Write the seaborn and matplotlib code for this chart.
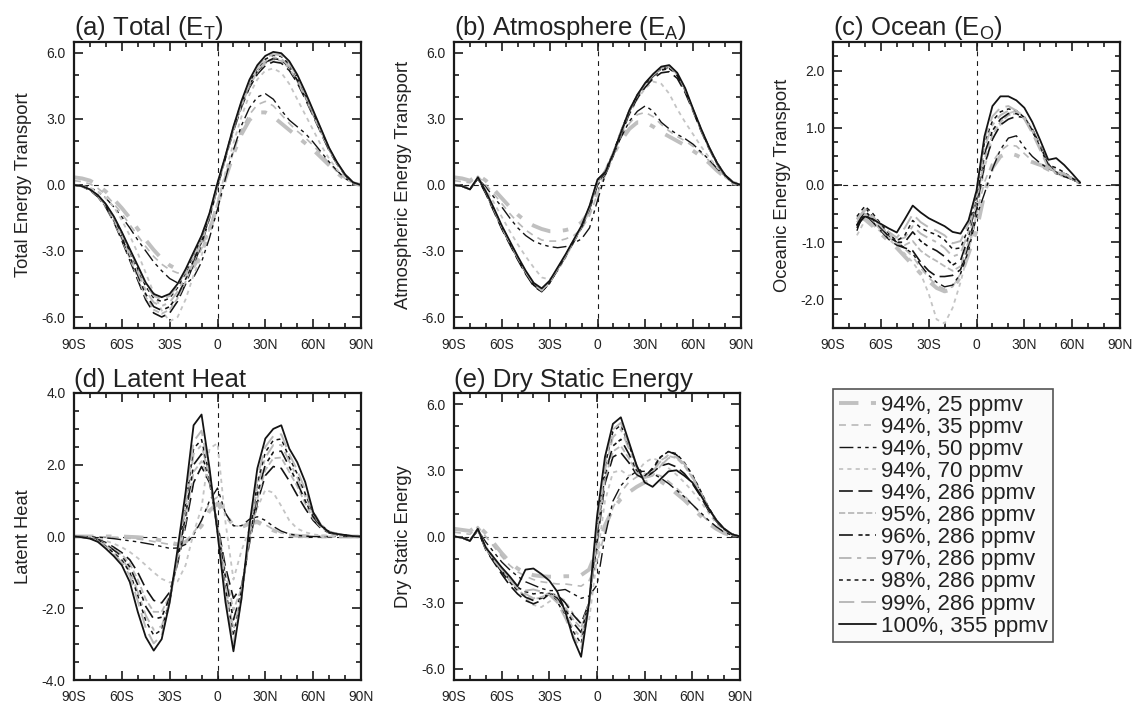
import seaborn as sns
import matplotlib.pyplot as plt
from matplotlib.ticker import MultipleLocator, FixedLocator, FixedFormatter, FormatStrFormatter

sns.set_theme(style="ticks")
plt.rcParams["font.family"] = ["Liberation Sans", "DejaVu Sans"]
plt.rcParams["mathtext.fontset"] = "custom"
plt.rcParams["mathtext.rm"] = "Liberation Sans"
plt.rcParams["mathtext.it"] = "Liberation Sans:italic"
plt.rcParams["axes.unicode_minus"] = False
plt.rcParams["lines.scale_dashes"] = False

# latitude grids (deg, negative = south)
lat = list(range(-90, 95, 5))
lat_ocean = list(range(-75, 70, 5))

labels = ["94%, 25 ppmv", "94%, 35 ppmv", "94%, 50 ppmv", "94%, 70 ppmv",
          "94%, 286 ppmv", "95%, 286 ppmv", "96%, 286 ppmv", "97%, 286 ppmv",
          "98%, 286 ppmv", "99%, 286 ppmv", "100%, 355 ppmv"]

# (a) total energy transport
tot_94_25 = [0.35, 0.3, 0.2, 0.0, -0.3, -0.65, -1.05, -1.5, -2.0, -2.5, -2.95, -3.35, -3.65, -3.85, -3.9, -3.7, -3.1, -2.1,
             -0.9, 0.3, 1.4, 2.3, 2.95, 3.3, 3.3, 3.1, 2.8, 2.5, 2.2, 1.9, 1.6, 1.25, 0.9, 0.55, 0.25, 0.08, 0.0]
tot_94_35 = [0.2, 0.15, 0.05, -0.15, -0.45, -0.85, -1.3, -1.8, -2.3, -2.8, -3.25, -3.6, -3.85, -4.0, -3.95, -3.6, -2.9, -1.9,
             -0.8, 0.4, 1.5, 2.5, 3.2, 3.65, 3.8, 3.6, 3.2, 2.8, 2.45, 2.15, 1.8, 1.4, 1.0, 0.6, 0.3, 0.1, 0.0]
tot_94_50 = [0.0, -0.03, -0.12, -0.3, -0.6, -1.0, -1.45, -1.95, -2.5, -3.0, -3.5, -3.9, -4.25, -4.45, -4.5, -4.2, -3.5, -2.4,
             -1.1, 0.3, 1.6, 2.7, 3.5, 4.0, 4.15, 3.9, 3.4, 2.95, 2.65, 2.35, 1.95, 1.5, 1.05, 0.65, 0.3, 0.08, 0.0]
tot_94_70 = [0.0, -0.03, -0.12, -0.3, -0.6, -1.0, -1.6, -2.3, -3.1, -4.0, -4.9, -5.7, -6.2, -6.0, -5.2, -4.1, -3.2, -2.0,
             -0.8, 0.6, 1.9, 3.1, 4.1, 4.8, 5.2, 5.3, 5.1, 4.6, 3.9, 3.2, 2.5, 1.8, 1.2, 0.7, 0.3, 0.08, 0.0]
tot_94_286 = [0.0, -0.06, -0.24, -0.54, -1.02, -1.68, -2.52, -3.42, -4.32, -5.22, -5.82, -6.0, -5.82, -5.28, -4.5, -3.6, -2.7, -1.5,
              -0.1, 1.23, 2.46, 3.53, 4.42, 5.04, 5.43, 5.6, 5.54, 5.21, 4.65, 3.92, 3.14, 2.35, 1.57, 0.95, 0.45, 0.11, 0.0]
tot_95 = [0.0, -0.06, -0.23, -0.53, -0.99, -1.64, -2.46, -3.33, -4.21, -5.09, -5.67, -5.85, -5.67, -5.15, -4.39, -3.51, -2.63, -1.46,
          -0.05, 1.25, 2.51, 3.59, 4.5, 5.13, 5.53, 5.7, 5.64, 5.3, 4.73, 3.99, 3.19, 2.39, 1.6, 0.97, 0.46, 0.11, 0.0]
tot_96 = [0.0, -0.06, -0.23, -0.51, -0.97, -1.6, -2.39, -3.25, -4.1, -4.96, -5.53, -5.7, -5.53, -5.02, -4.28, -3.42, -2.57, -1.43,
          -0.05, 1.27, 2.53, 3.62, 4.54, 5.18, 5.58, 5.75, 5.69, 5.35, 4.77, 4.03, 3.22, 2.42, 1.61, 0.98, 0.46, 0.12, 0.0]
tot_97 = [0.0, -0.06, -0.22, -0.5, -0.94, -1.54, -2.31, -3.14, -3.96, -4.79, -5.34, -5.5, -5.34, -4.84, -4.13, -3.3, -2.48, -1.38,
          0.0, 1.28, 2.55, 3.65, 4.58, 5.22, 5.63, 5.8, 5.74, 5.39, 4.81, 4.06, 3.25, 2.44, 1.62, 0.99, 0.46, 0.12, 0.0]
tot_98 = [0.0, -0.05, -0.21, -0.48, -0.9, -1.48, -2.23, -3.02, -3.82, -4.61, -5.14, -5.3, -5.14, -4.66, -3.98, -3.18, -2.39, -1.33,
          0.05, 1.3, 2.6, 3.72, 4.66, 5.31, 5.72, 5.9, 5.84, 5.49, 4.9, 4.13, 3.3, 2.48, 1.65, 1.0, 0.47, 0.12, 0.0]
tot_99 = [0.0, -0.05, -0.21, -0.47, -0.88, -1.46, -2.18, -2.96, -3.74, -4.52, -5.04, -5.2, -5.04, -4.58, -3.9, -3.12, -2.34, -1.3,
          0.05, 1.31, 2.62, 3.75, 4.7, 5.36, 5.77, 5.95, 5.89, 5.53, 4.94, 4.17, 3.33, 2.5, 1.67, 1.01, 0.48, 0.12, 0.0]
tot_100 = [0.0, -0.05, -0.2, -0.46, -0.87, -1.43, -2.14, -2.91, -3.67, -4.44, -4.95, -5.1, -4.95, -4.49, -3.83, -3.06, -2.3, -1.28,
           0.1, 1.33, 2.66, 3.81, 4.78, 5.45, 5.87, 6.05, 5.99, 5.63, 5.02, 4.24, 3.39, 2.54, 1.69, 1.03, 0.48, 0.12, 0.0]

# (b) atmospheric energy transport
atm_94_25 = [0.35, 0.3, 0.2, 0.45, 0.2, -0.2, -0.6, -1.0, -1.35, -1.65, -1.85, -2.0, -2.1, -2.1, -2.05, -1.95, -1.7, -1.2,
             -0.3, 0.6, 1.4, 2.05, 2.55, 2.85, 2.85, 2.65, 2.4, 2.2, 2.0, 1.8, 1.55, 1.3, 1.0, 0.65, 0.35, 0.1, 0.0]
atm_94_35 = [0.2, 0.15, 0.1, 0.4, 0.0, -0.4, -0.85, -1.3, -1.7, -2.05, -2.3, -2.5, -2.55, -2.55, -2.45, -2.3, -2.0, -1.4,
             -0.4, 0.6, 1.5, 2.2, 2.8, 3.2, 3.3, 3.1, 2.75, 2.45, 2.2, 2.0, 1.75, 1.45, 1.1, 0.7, 0.35, 0.1, 0.0]
atm_94_50 = [0.0, -0.05, -0.15, 0.3, -0.1, -0.55, -1.0, -1.5, -1.95, -2.3, -2.55, -2.7, -2.8, -2.85, -2.8, -2.65, -2.45, -1.95,
             -0.7, 0.5, 1.45, 2.2, 2.9, 3.35, 3.6, 3.35, 2.85, 2.55, 2.3, 2.1, 1.85, 1.5, 1.15, 0.75, 0.4, 0.1, 0.0]
atm_94_70 = [0.0, -0.05, -0.2, 0.35, -0.2, -0.8, -1.45, -2.1, -2.7, -3.25, -3.75, -4.2, -4.3, -3.9, -3.3, -2.6, -1.9, -1.0,
             0.1, 0.6, 1.4, 2.3, 3.2, 3.9, 4.4, 4.7, 4.6, 4.15, 3.45, 2.85, 2.3, 1.75, 1.25, 0.8, 0.4, 0.1, 0.0]
atm_94_286 = [0.0, -0.05, -0.2, 0.3, -0.4, -1.2, -2.0, -2.7, -3.4, -4.05, -4.6, -4.85, -4.45, -3.85, -3.25, -2.6, -1.95, -1.1,
              0.0, 0.5, 1.35, 2.35, 3.25, 3.95, 4.45, 4.85, 5.1, 5.15, 4.85, 4.2, 3.35, 2.45, 1.65, 0.95, 0.42, 0.11, 0.0]
atm_95 = [0.0, -0.05, -0.2, 0.35, -0.3, -1.1, -1.9, -2.6, -3.3, -3.95, -4.5, -4.8, -4.42, -3.8, -3.2, -2.55, -1.9, -1.05,
          0.1, 0.55, 1.4, 2.4, 3.35, 4.05, 4.58, 5.0, 5.28, 5.35, 5.02, 4.32, 3.42, 2.52, 1.7, 1.0, 0.45, 0.12, 0.0]
atm_96 = [0.0, -0.05, -0.2, 0.3, -0.35, -1.15, -1.95, -2.65, -3.35, -4.0, -4.55, -4.85, -4.45, -3.82, -3.2, -2.55, -1.9, -1.05,
          0.1, 0.6, 1.45, 2.45, 3.35, 4.05, 4.55, 4.95, 5.22, 5.3, 4.98, 4.3, 3.4, 2.5, 1.7, 1.0, 0.45, 0.12, 0.0]
atm_97 = [0.0, -0.05, -0.2, 0.35, -0.3, -1.1, -1.9, -2.6, -3.3, -3.95, -4.5, -4.8, -4.42, -3.8, -3.2, -2.55, -1.9, -1.0,
          0.15, 0.6, 1.45, 2.45, 3.38, 4.1, 4.6, 5.02, 5.32, 5.4, 5.05, 4.35, 3.42, 2.52, 1.7, 1.0, 0.45, 0.12, 0.0]
atm_98 = [0.0, -0.05, -0.2, 0.3, -0.35, -1.15, -1.95, -2.65, -3.35, -4.0, -4.55, -4.85, -4.45, -3.82, -3.2, -2.55, -1.9, -1.0,
          0.2, 0.65, 1.5, 2.5, 3.4, 4.1, 4.6, 5.0, 5.28, 5.35, 5.0, 4.3, 3.4, 2.5, 1.7, 1.0, 0.45, 0.12, 0.0]
atm_99 = [0.0, -0.05, -0.2, 0.35, -0.3, -1.1, -1.9, -2.6, -3.3, -3.95, -4.5, -4.8, -4.4, -3.8, -3.2, -2.55, -1.9, -1.0,
          0.2, 0.65, 1.5, 2.5, 3.4, 4.1, 4.6, 5.0, 5.32, 5.4, 5.05, 4.35, 3.42, 2.52, 1.7, 1.0, 0.45, 0.12, 0.0]
atm_100 = [0.0, -0.05, -0.2, 0.35, -0.3, -1.05, -1.85, -2.55, -3.25, -3.9, -4.45, -4.7, -4.35, -3.75, -3.15, -2.5, -1.85, -0.95,
           0.25, 0.6, 1.45, 2.45, 3.4, 4.1, 4.65, 5.05, 5.38, 5.45, 5.1, 4.4, 3.45, 2.55, 1.72, 1.0, 0.45, 0.12, 0.0]

# (c) oceanic energy transport (75S to 65N)
oce_94_25 = [-0.55, -0.6, -0.72, -0.85, -0.98, -1.1, -1.25, -1.4, -1.55, -1.68, -1.8, -1.86, -1.82, -1.6, -1.2,
             -0.8, -0.15, 0.3, 0.5, 0.56, 0.52, 0.45, 0.4, 0.35, 0.3, 0.22, 0.16, 0.1, 0.04]
oce_94_35 = [-0.65, -0.55, -0.65, -0.78, -0.9, -1.02, -1.12, -1.25, -1.45, -1.62, -1.75, -1.82, -1.78, -1.55, -1.1,
             -0.5, 0.05, 0.4, 0.6, 0.7, 0.68, 0.55, 0.42, 0.32, 0.25, 0.2, 0.15, 0.1, 0.03]
oce_94_50 = [-0.8, -0.4, -0.55, -0.72, -0.88, -1.0, -1.1, -1.2, -1.4, -1.58, -1.7, -1.78, -1.75, -1.55, -1.15,
             -0.55, -0.15, 0.28, 0.62, 0.82, 0.86, 0.66, 0.5, 0.38, 0.29, 0.22, 0.16, 0.1, 0.03]
oce_94_70 = [-0.88, -0.62, -0.7, -0.82, -0.95, -1.07, -1.2, -1.35, -1.55, -1.9, -2.35, -2.42, -2.15, -1.7, -1.15,
             -0.5, 0.3, 0.8, 1.05, 1.25, 1.3, 1.2, 0.98, 0.65, 0.38, 0.25, 0.17, 0.1, 0.03]
oce_94_286 = [-0.75, -0.5, -0.65, -0.8, -0.95, -1.05, -1.1, -1.15, -1.35, -1.5, -1.6, -1.6, -1.58, -1.48, -1.05,
              -0.4, 0.35, 0.8, 1.05, 1.15, 1.2, 1.18, 0.98, 0.68, 0.37, 0.2, 0.15, 0.1, 0.03]
oce_95 = [-0.65, -0.5, -0.62, -0.78, -0.92, -1.02, -1.05, -0.98, -1.15, -1.25, -1.33, -1.42, -1.5, -1.42, -0.98,
          -0.3, 0.45, 0.88, 1.1, 1.22, 1.25, 1.18, 0.97, 0.66, 0.35, 0.2, 0.18, 0.1, 0.03]
oce_96 = [-0.7, -0.45, -0.6, -0.75, -0.9, -1.0, -1.0, -0.82, -0.98, -1.08, -1.15, -1.25, -1.4, -1.32, -0.9,
          -0.25, 0.55, 0.95, 1.15, 1.25, 1.25, 1.17, 0.95, 0.65, 0.35, 0.22, 0.2, 0.12, 0.03]
oce_97 = [-0.6, -0.45, -0.58, -0.72, -0.86, -0.96, -0.92, -0.72, -0.85, -0.93, -1.0, -1.1, -1.25, -1.2, -0.82,
          -0.2, 0.65, 1.05, 1.22, 1.3, 1.28, 1.17, 0.95, 0.65, 0.33, 0.2, 0.2, 0.12, 0.03]
oce_98 = [-0.55, -0.37, -0.5, -0.68, -0.85, -0.98, -0.88, -0.62, -0.75, -0.82, -0.87, -0.96, -1.12, -1.1, -0.75,
          -0.15, 0.75, 1.12, 1.28, 1.33, 1.3, 1.18, 0.95, 0.65, 0.35, 0.3, 0.22, 0.12, 0.03]
oce_99 = [-0.6, -0.42, -0.55, -0.7, -0.82, -0.92, -0.75, -0.51, -0.65, -0.74, -0.8, -0.88, -1.02, -0.98, -0.68,
          -0.1, 0.8, 1.2, 1.35, 1.38, 1.3, 1.15, 0.9, 0.6, 0.3, 0.22, 0.2, 0.12, 0.04]
oce_100 = [-0.7, -0.55, -0.6, -0.68, -0.76, -0.83, -0.6, -0.36, -0.48, -0.58, -0.65, -0.72, -0.82, -0.85, -0.62,
           -0.1, 0.85, 1.38, 1.55, 1.55, 1.48, 1.35, 1.1, 0.78, 0.44, 0.47, 0.35, 0.2, 0.04]

# (d) latent heat transport
lh_94_25 = [0.0, 0.0, 0.0, 0.0, 0.0, 0.0, 0.0, -0.01, -0.02, -0.04, -0.07, -0.11, -0.16, -0.22, -0.15, 0.05, 0.3, 0.72,
            0.92, 0.6, 0.31, 0.26, 0.36, 0.4, 0.28, 0.17, 0.09, 0.04, 0.02, 0.01, 0.0, 0.0, 0.0, 0.0, 0.0, 0.0, 0.0]
lh_94_35 = [0.0, 0.0, 0.0, -0.01, -0.01, -0.02, -0.03, -0.05, -0.07, -0.1, -0.14, -0.18, -0.22, -0.25, -0.15, 0.1, 0.45, 0.95,
            1.1, 0.65, 0.3, 0.28, 0.4, 0.45, 0.33, 0.2, 0.1, 0.05, 0.02, 0.01, 0.0, 0.0, 0.0, 0.0, 0.0, 0.0, 0.0]
lh_94_50 = [0.0, 0.0, -0.01, -0.02, -0.04, -0.06, -0.09, -0.12, -0.15, -0.19, -0.23, -0.28, -0.33, -0.32, -0.22, 0.05, 0.45, 1.0,
            1.35, 0.65, 0.3, 0.3, 0.48, 0.55, 0.45, 0.28, 0.15, 0.07, 0.03, 0.01, 0.0, 0.0, 0.0, 0.0, 0.0, 0.0, 0.0]
lh_94_70 = [0.0, -0.01, -0.03, -0.06, -0.12, -0.2, -0.3, -0.43, -0.6, -0.8, -1.0, -1.18, -1.28, -1.25, -0.8, 0.1, 0.8, 2.45,
            2.6, 0.4, -1.2, -0.4, 0.2, 0.8, 1.3, 1.22, 0.85, 0.45, 0.22, 0.12, 0.06, 0.03, 0.01, 0.0, 0.0, 0.0, 0.0]
lh_94_286 = [0.0, -0.01, -0.03, -0.08, -0.17, -0.3, -0.45, -0.65, -1.0, -1.45, -1.78, -1.85, -1.55, -0.75, 0.3, 1.5, 1.95, 1.5,
             0.35, -0.85, -1.72, -1.4, -0.2, 0.95, 1.7, 1.95, 1.9, 1.55, 1.15, 0.78, 0.45, 0.22, 0.1, 0.05, 0.02, 0.01, 0.0]
lh_95 = [0.0, -0.01, -0.04, -0.1, -0.21, -0.35, -0.5, -0.76, -1.2, -1.75, -2.1, -2.1, -1.65, -0.7, 0.45, 1.8, 2.1, 1.55,
         0.3, -1.0, -2.05, -1.45, -0.15, 1.05, 1.85, 2.18, 2.2, 1.8, 1.4, 0.92, 0.5, 0.25, 0.11, 0.06, 0.03, 0.01, 0.0]
lh_96 = [0.0, -0.02, -0.04, -0.11, -0.23, -0.38, -0.56, -0.85, -1.35, -1.95, -2.3, -2.25, -1.7, -0.65, 0.6, 2.0, 2.3, 1.6,
         0.25, -1.15, -2.32, -1.55, -0.1, 1.2, 2.0, 2.35, 2.38, 1.95, 1.5, 1.0, 0.55, 0.28, 0.12, 0.07, 0.03, 0.01, 0.0]
lh_97 = [0.0, -0.02, -0.05, -0.12, -0.26, -0.43, -0.62, -0.95, -1.55, -2.2, -2.6, -2.5, -1.8, -0.6, 0.8, 2.3, 2.55, 1.65,
         0.2, -1.35, -2.6, -1.65, -0.05, 1.4, 2.2, 2.55, 2.55, 2.1, 1.65, 1.12, 0.62, 0.3, 0.13, 0.07, 0.04, 0.01, 0.0]
lh_98 = [0.0, -0.02, -0.05, -0.13, -0.28, -0.46, -0.66, -1.0, -1.65, -2.35, -2.75, -2.6, -1.8, -0.55, 0.9, 2.45, 2.7, 1.7,
         0.15, -1.45, -2.78, -1.7, 0.0, 1.5, 2.35, 2.68, 2.72, 2.2, 1.75, 1.2, 0.65, 0.32, 0.14, 0.08, 0.04, 0.01, 0.0]
lh_99 = [0.0, -0.02, -0.05, -0.14, -0.3, -0.5, -0.72, -1.1, -1.8, -2.55, -2.98, -2.75, -1.85, -0.5, 1.0, 2.65, 2.95, 1.8,
         0.15, -1.6, -2.98, -1.75, 0.1, 1.65, 2.5, 2.8, 2.85, 2.3, 1.85, 1.3, 0.7, 0.32, 0.14, 0.08, 0.04, 0.01, 0.0]
lh_100 = [0.0, -0.02, -0.06, -0.15, -0.34, -0.55, -0.8, -1.27, -2.1, -2.8, -3.18, -2.86, -1.83, -0.34, 1.24, 3.1, 3.4, 1.9,
          0.1, -1.83, -3.2, -1.74, 0.3, 1.9, 2.73, 3.0, 3.1, 2.45, 2.07, 1.52, 0.68, 0.3, 0.12, 0.07, 0.04, 0.01, 0.0]

# (e) dry static energy transport
dse_94_25 = [0.35, 0.3, 0.25, 0.5, 0.15, -0.3, -0.75, -1.15, -1.45, -1.65, -1.75, -1.8, -1.82, -1.82, -1.8, -1.8, -1.75, -1.5,
             -0.6, 0.5, 1.25, 1.7, 2.0, 2.25, 2.45, 2.55, 2.5, 2.25, 1.95, 1.65, 1.3, 0.95, 0.6, 0.35, 0.15, 0.04, 0.0]
dse_94_35 = [0.2, 0.15, 0.1, 0.45, 0.0, -0.45, -0.9, -1.3, -1.6, -1.8, -1.95, -2.05, -2.1, -2.15, -2.15, -2.2, -2.25, -2.0,
             -1.2, 0.2, 1.3, 2.0, 2.45, 2.7, 2.85, 2.85, 2.75, 2.5, 2.2, 1.85, 1.45, 1.05, 0.7, 0.4, 0.18, 0.05, 0.0]
dse_94_50 = [0.0, -0.05, -0.15, 0.3, -0.25, -0.7, -1.15, -1.5, -1.8, -2.05, -2.2, -2.35, -2.45, -2.45, -2.4, -2.6, -2.8, -2.7,
             -2.2, 0.0, 1.6, 2.3, 2.7, 2.95, 2.95, 2.85, 2.65, 2.4, 2.1, 1.8, 1.45, 1.1, 0.75, 0.45, 0.2, 0.05, 0.0]
dse_94_70 = [0.0, -0.05, -0.2, 0.35, -0.45, -0.95, -1.45, -1.95, -2.4, -2.8, -3.1, -3.2, -2.95, -2.7, -2.9, -3.5, -3.95, -3.8,
             -1.0, 1.6, 2.9, 3.0, 2.75, 2.9, 3.35, 3.55, 3.4, 3.1, 2.8, 2.45, 2.05, 1.6, 1.1, 0.6, 0.25, 0.07, 0.0]
dse_94_286 = [0.0, -0.05, -0.2, 0.3, -0.6, -1.15, -1.7, -2.2, -2.6, -2.9, -3.05, -2.9, -2.6, -2.65, -3.0, -3.55, -3.95, -3.0,
              -0.3, 2.4, 3.6, 3.8, 3.35, 2.8, 2.6, 2.9, 3.2, 3.3, 3.15, 2.85, 2.4, 1.85, 1.2, 0.7, 0.3, 0.1, 0.0]
dse_95 = [0.0, -0.05, -0.2, 0.35, -0.5, -1.05, -1.55, -2.0, -2.4, -2.7, -2.85, -2.75, -2.55, -2.75, -3.2, -3.75, -4.15, -3.0,
          -0.1, 2.6, 3.85, 4.1, 3.55, 2.9, 2.7, 3.05, 3.45, 3.65, 3.55, 3.2, 2.65, 2.0, 1.3, 0.75, 0.35, 0.1, 0.0]
dse_96 = [0.0, -0.05, -0.2, 0.3, -0.55, -1.1, -1.6, -2.05, -2.45, -2.75, -2.9, -2.8, -2.6, -2.8, -3.3, -3.9, -4.35, -3.0,
          0.1, 2.8, 4.1, 4.4, 3.75, 3.0, 2.7, 3.1, 3.6, 3.85, 3.7, 3.3, 2.75, 2.05, 1.3, 0.75, 0.35, 0.1, 0.0]
dse_97 = [0.0, -0.05, -0.2, 0.35, -0.5, -1.05, -1.5, -1.9, -2.3, -2.6, -2.8, -2.75, -2.6, -2.9, -3.5, -4.15, -4.6, -3.0,
          0.3, 3.0, 4.5, 4.85, 4.0, 3.1, 2.7, 2.95, 3.4, 3.7, 3.6, 3.25, 2.7, 2.05, 1.3, 0.75, 0.35, 0.1, 0.0]
dse_98 = [0.0, -0.05, -0.2, 0.3, -0.55, -1.1, -1.55, -1.95, -2.3, -2.5, -2.6, -2.55, -2.6, -2.95, -3.6, -4.3, -4.85, -3.1,
          0.5, 3.2, 4.75, 5.05, 4.15, 3.2, 2.75, 3.05, 3.6, 3.85, 3.75, 3.35, 2.8, 2.1, 1.35, 0.75, 0.35, 0.1, 0.0]
dse_99 = [0.0, -0.05, -0.2, 0.35, -0.55, -1.05, -1.5, -1.95, -2.35, -2.45, -2.4, -2.5, -2.65, -3.0, -3.7, -4.5, -5.1, -3.2,
          0.5, 3.3, 4.85, 5.15, 4.2, 3.2, 2.65, 2.75, 3.2, 3.55, 3.6, 3.3, 2.7, 2.0, 1.3, 0.75, 0.35, 0.1, 0.0]
dse_100 = [0.0, -0.05, -0.2, 0.35, -0.5, -0.95, -1.4, -1.8, -2.25, -1.5, -1.45, -1.7, -2.0, -2.5, -3.4, -4.6, -5.45, -3.0,
           0.9, 3.6, 5.1, 5.4, 4.3, 3.2, 2.45, 2.25, 2.6, 2.95, 3.0, 2.75, 2.45, 1.9, 1.3, 0.75, 0.35, 0.1, 0.0]

# line styles, same order as labels (colour, width, dash pattern in points)
grey = "#b9b9b9"
black = "#141414"
styles = [
    ("#c0c0c0", 2.8, (0, (14, 9, 4, 9))),
    (grey, 1.2, (0, (5, 4))),
    (black, 1.0, (0, (10, 3, 2.5, 3, 2.5, 3))),
    ("#c4c4c4", 1.3, (0, (3, 3))),
    (black, 1.2, (0, (10, 4))),
    (grey, 1.3, (0, (4.5, 2))),
    (black, 1.2, (0, (10, 4, 3, 2, 3, 4))),
    (grey, 1.4, (0, (9, 4, 3, 4))),
    (black, 1.1, (0, (2.8, 2.8))),
    (grey, 1.4, (0, (11, 5))),
    (black, 1.3, "-"),
]

W, H = 1140, 702
fig = plt.figure(figsize=(W / 100, H / 100), dpi=100)


def make_axes(left, top, right, bottom):
    return fig.add_axes([left / W, 1 - bottom / H, (right - left) / W, (bottom - top) / H])


panels = [
    (make_axes(74, 42, 361, 328), "(a) Total (E$_\\mathrm{T}$)", "Total Energy Transport", lat,
     [tot_94_25, tot_94_35, tot_94_50, tot_94_70, tot_94_286, tot_95, tot_96, tot_97, tot_98, tot_99, tot_100],
     6.5, 3.0, 1.0),
    (make_axes(454, 42, 741, 328), "(b) Atmosphere (E$_\\mathrm{A}$)", "Atmospheric Energy Transport", lat,
     [atm_94_25, atm_94_35, atm_94_50, atm_94_70, atm_94_286, atm_95, atm_96, atm_97, atm_98, atm_99, atm_100],
     6.5, 3.0, 1.0),
    (make_axes(833, 42, 1120, 328), "(c) Ocean (E$_\\mathrm{O}$)", "Oceanic Energy Transport", lat_ocean,
     [oce_94_25, oce_94_35, oce_94_50, oce_94_70, oce_94_286, oce_95, oce_96, oce_97, oce_98, oce_99, oce_100],
     2.5, 1.0, 0.25),
    (make_axes(74, 393, 361, 680), "(d) Latent Heat", "Latent Heat", lat,
     [lh_94_25, lh_94_35, lh_94_50, lh_94_70, lh_94_286, lh_95, lh_96, lh_97, lh_98, lh_99, lh_100],
     4.0, 2.0, 0.5),
    (make_axes(454, 393, 740, 680), "(e) Dry Static Energy", "Dry Static Energy", lat,
     [dse_94_25, dse_94_35, dse_94_50, dse_94_70, dse_94_286, dse_95, dse_96, dse_97, dse_98, dse_99, dse_100],
     6.5, 3.0, 1.0),
]

handles = None
for ax, title, ylabel, x, series, ymax, major, minor in panels:
    ax.axhline(0, color="k", lw=0.8, ls=(0, (3.5, 3.5)), zorder=1)
    ax.axvline(0, color="k", lw=0.8, ls=(0, (3.5, 3.5)), zorder=1)
    lines = []
    for vals, (c, lw, ls), lab in zip(series, styles, labels):
        sns.lineplot(x=x, y=vals, ax=ax, color=c, lw=lw, linestyle=ls, label=lab,
                     legend=False, estimator=None, sort=False)
        lines.append(ax.lines[-1])
    if handles is None:
        handles = lines

    ax.set_xlim(-90, 90)
    ax.set_ylim(-ymax, ymax)
    ax.xaxis.set_major_locator(FixedLocator([-90, -60, -30, 0, 30, 60, 90]))
    ax.xaxis.set_major_formatter(FixedFormatter(["90S", "60S", "30S", "0", "30N", "60N", "90N"]))
    ax.xaxis.set_minor_locator(MultipleLocator(10))
    ax.yaxis.set_major_locator(MultipleLocator(major))
    ax.yaxis.set_minor_locator(MultipleLocator(minor))
    ax.yaxis.set_major_formatter(FormatStrFormatter("%.1f"))

    ax.tick_params(which="both", direction="in", top=True, right=True, width=1.2, colors="k")
    ax.tick_params(which="major", length=6.5)
    ax.tick_params(which="minor", length=3.5)
    ax.tick_params(axis="both", labelsize=10, labelcolor="#222222")
    ax.tick_params(axis="x", pad=7)
    ax.tick_params(axis="y", pad=6)
    for sp in ax.spines.values():
        sp.set_linewidth(1.6)
        sp.set_color("k")

    ax.set_xlabel("")
    ax.set_ylabel(ylabel, fontsize=13.2, labelpad=7, color="#222222")
    ax.set_title(title, loc="left", fontsize=18.5, pad=4, color="#222222")

leg = fig.legend(handles, labels, loc="upper left", bbox_to_anchor=(833 / W, 1 - 389 / H),
                 frameon=True, fancybox=False, edgecolor="#555555", facecolor="#fafafa", framealpha=1,
                 fontsize=16, handlelength=1.7, handletextpad=0.2, labelspacing=0.05,
                 borderpad=0.25, borderaxespad=0.0)
leg.get_frame().set_linewidth(1.2)
for t in leg.get_texts():
    t.set_color("#222222")

fig.savefig("out.png", dpi=100)
